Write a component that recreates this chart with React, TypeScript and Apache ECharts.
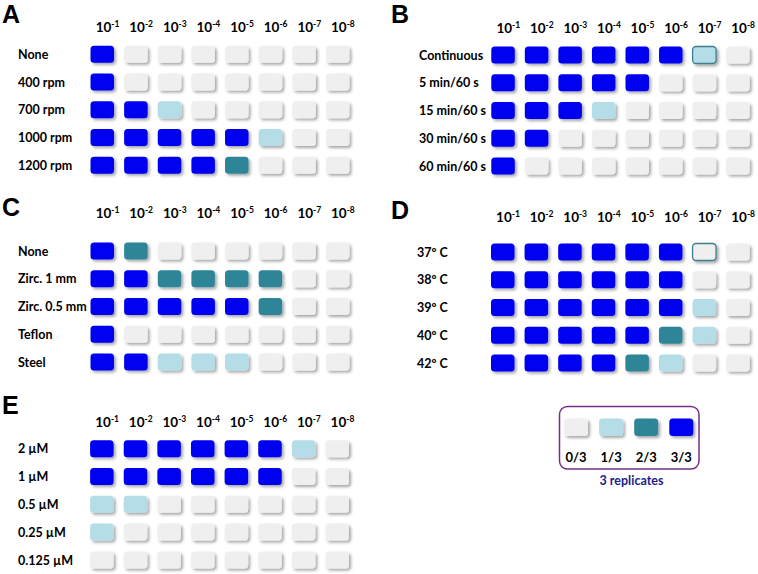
import React, { useEffect, useRef } from "react";
import * as echarts from "echarts";

// Dilution columns (exponent of 10)
const dilutionExponents = ["-1", "-2", "-3", "-4", "-5", "-6", "-7", "-8"];

// Replicate levels (0..3 positive of 3)
const levelLabels = ["0/3", "1/3", "2/3", "3/3"];
const levelColors = ["#efefef", "#b5dde7", "#2f8598", "#0000f0"];

// Panel A
const rowsA = ["None", "400 rpm", "700 rpm", "1000 rpm", "1200 rpm"];
const valuesA = [
  [3, 0, 0, 0, 0, 0, 0, 0],
  [3, 0, 0, 0, 0, 0, 0, 0],
  [3, 3, 1, 0, 0, 0, 0, 0],
  [3, 3, 3, 3, 3, 1, 0, 0],
  [3, 3, 3, 3, 2, 0, 0, 0],
];

// Panel B
const rowsB = ["Continuous", "5 min/60 s", "15 min/60 s", "30 min/60 s", "60 min/60 s"];
const valuesB = [
  [3, 3, 3, 3, 3, 3, 1, 0],
  [3, 3, 3, 3, 3, 0, 0, 0],
  [3, 3, 3, 1, 0, 0, 0, 0],
  [3, 3, 0, 0, 0, 0, 0, 0],
  [3, 0, 0, 0, 0, 0, 0, 0],
];
const outlinedB = [[0, 6]];

// Panel C
const rowsC = ["None", "Zirc. 1 mm", "Zirc. 0.5 mm", "Teflon", "Steel"];
const valuesC = [
  [3, 2, 0, 0, 0, 0, 0, 0],
  [3, 3, 2, 2, 2, 2, 0, 0],
  [3, 3, 3, 3, 3, 2, 0, 0],
  [3, 0, 0, 0, 0, 0, 0, 0],
  [3, 3, 1, 1, 1, 0, 0, 0],
];

// Panel D
const rowsD = ["37º C", "38º C", "39º C", "40º C", "42º C"];
const valuesD = [
  [3, 3, 3, 3, 3, 3, 0, 0],
  [3, 3, 3, 3, 3, 3, 0, 0],
  [3, 3, 3, 3, 3, 3, 1, 0],
  [3, 3, 3, 3, 3, 2, 1, 0],
  [3, 3, 3, 3, 2, 1, 0, 0],
];
const outlinedD = [[0, 6]];

// Panel E
const rowsE = ["2 µM", "1 µM", "0.5 µM", "0.25 µM", "0.125 µM"];
const valuesE = [
  [3, 3, 3, 3, 3, 3, 1, 0],
  [3, 3, 3, 3, 3, 3, 0, 0],
  [1, 1, 0, 0, 0, 0, 0, 0],
  [1, 0, 0, 0, 0, 0, 0, 0],
  [0, 0, 0, 0, 0, 0, 0, 0],
];

const panels = [
  { letter: "A", rows: rowsA, values: valuesA, outlined: [] as number[][] },
  { letter: "B", rows: rowsB, values: valuesB, outlined: outlinedB },
  { letter: "C", rows: rowsC, values: valuesC, outlined: [] as number[][] },
  { letter: "D", rows: rowsD, values: valuesD, outlined: outlinedD },
  { letter: "E", rows: rowsE, values: valuesE, outlined: [] as number[][] },
];

// Layout (positions only)
const layouts = [
  { left: 85.7, top: 40.5, height: 138.8, labelMargin: 67.7, headerMargin: 6, letterX: 2, letterY: 1 },
  { left: 486.5, top: 41.3, height: 138.8, labelMargin: 67.5, headerMargin: 6, letterX: 391, letterY: 1 },
  { left: 85.7, top: 237.2, height: 138.8, labelMargin: 67.7, headerMargin: 17, letterX: 2, letterY: 194 },
  { left: 486.2, top: 238.3, height: 138.8, labelMargin: 69.2, headerMargin: 14, letterX: 391, letterY: 197 },
  { left: 85.3, top: 435, height: 141, labelMargin: 67.3, headerMargin: 6, letterX: 2, letterY: 392 },
];
const GRID_W = 269;
const FONT = "Lato";

export default function App() {
  const ref = useRef<HTMLDivElement>(null);
  useEffect(() => {
    if (!ref.current) return;
    const chart = echarts.init(ref.current, null, { renderer: "svg" });

    const grids: any[] = [];
    const xAxes: any[] = [];
    const yAxes: any[] = [];
    const series: any[] = [];
    const graphics: any[] = [];

    panels.forEach((p, i) => {
      const L = layouts[i];
      grids.push({ left: L.left, top: L.top, width: GRID_W, height: L.height, containLabel: false });
      xAxes.push({
        gridIndex: i,
        type: "category",
        position: "top",
        data: dilutionExponents,
        axisLine: { show: false },
        axisTick: { show: false },
        splitLine: { show: false },
        axisLabel: {
          interval: 0,
          margin: L.headerMargin,
          padding: [0, 0, 0, 10],
          formatter: (v: string) => `{b|10}{s|${v}}`,
          rich: {
            b: { fontFamily: FONT, fontWeight: "bold", fontSize: 13.5, color: "#000", lineHeight: 15 },
            s: { fontFamily: FONT, fontWeight: "bold", fontSize: 8.5, color: "#000", verticalAlign: "top", lineHeight: 10 },
          },
        },
      });
      yAxes.push({
        gridIndex: i,
        type: "category",
        inverse: true,
        data: p.rows,
        axisLine: { show: false },
        axisTick: { show: false },
        splitLine: { show: false },
        axisLabel: {
          interval: 0,
          align: "left",
          margin: L.labelMargin,
          fontFamily: FONT,
          fontWeight: "bold",
          fontSize: 12.5,
          color: "#000",
        },
      });
      const data: number[][] = [];
      p.values.forEach((row, r) =>
        row.forEach((v, c) => {
          const out = p.outlined.some((o) => o[0] === r && o[1] === c) ? 1 : 0;
          data.push([c, r, v, out]);
        })
      );
      series.push({
        type: "custom",
        xAxisIndex: i,
        yAxisIndex: i,
        data,
        renderItem: (params: any, api: any) => {
          const pt = api.coord([api.value(0), api.value(1)]);
          const v = api.value(2);
          const out = api.value(3);
          return {
            type: "rect",
            shape: { x: pt[0] - 12, y: pt[1] - 8.7, width: 23.5, height: 17, r: 3.5 },
            style: {
              fill: levelColors[v],
              stroke: out ? "#3d7f8e" : null,
              lineWidth: out ? 1.3 : 0,
              shadowBlur: 3,
              shadowOffsetX: 2,
              shadowOffsetY: 2,
              shadowColor: "rgba(0,0,0,0.35)",
            },
          };
        },
      });
      graphics.push({
        type: "text",
        left: L.letterX,
        top: L.letterY,
        style: { text: p.letter, font: 'bold 25px "Liberation Sans"', fill: "#000" },
      });
    });

    // Legend box
    const boxX = 559.5, boxY = 406.5, cellW = 24, cellH = 17.5, step = 35.1, firstX = 564;
    graphics.push({
      type: "rect",
      shape: { x: boxX, y: boxY, width: 139.5, height: 62.5, r: 8 },
      style: { fill: "none", stroke: "#742f86", lineWidth: 1.5 },
    });
    levelLabels.forEach((lab, k) => {
      const x = firstX + k * step;
      graphics.push({
        type: "rect",
        shape: { x, y: 418.5, width: cellW, height: cellH, r: 3.5 },
        style: {
          fill: levelColors[k],
          shadowBlur: 3,
          shadowOffsetX: 2,
          shadowOffsetY: 2,
          shadowColor: "rgba(0,0,0,0.35)",
        },
      });
      graphics.push({
        type: "text",
        x: x + cellW / 2,
        y: 457,
        style: {
          text: lab,
          font: `bold 13px ${FONT}`,
          fill: "#000",
          align: "center",
          verticalAlign: "middle",
        },
      });
    });
    graphics.push({
      type: "text",
      x: 631.5,
      y: 480.5,
      style: {
        text: "3 replicates",
        font: `bold 12.5px ${FONT}`,
        fill: "#1c1c8e",
        align: "center",
        verticalAlign: "middle",
      },
    });

    chart.setOption({
      animation: false,
      backgroundColor: "#fff",
      grid: grids,
      xAxis: xAxes,
      yAxis: yAxes,
      series,
      graphic: graphics,
    });
    return () => chart.dispose();
  }, []);
  return (
    <div
      ref={ref}
      style={{ position: "fixed", left: 0, top: 0, width: 758, height: 574 }}
    />
  );
}
